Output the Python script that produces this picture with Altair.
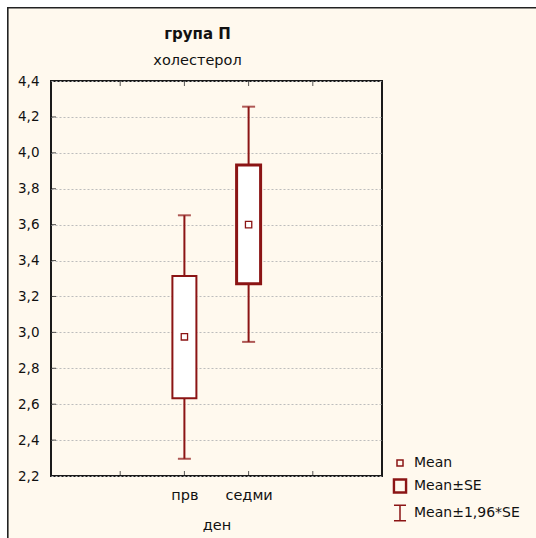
import altair as alt
import pandas as pd

# ---- data ----
categories = ["прв", "седми"]
means = [2.975, 3.600]
se_low = [2.633, 3.271]
se_high = [3.314, 3.932]
ci_low = [2.296, 2.947]
ci_high = [3.652, 4.257]
y_ticks = [2.2, 2.4, 2.6, 2.8, 3.0, 3.2, 3.4, 3.6, 3.8, 4.0, 4.2, 4.4]
x_slots = [1, 2, 3, 4]
legend_labels = ["Mean", "Mean±SE", "Mean±1,96*SE"]
title_text = "група П"
subtitle_text = "холестерол"
x_title = "ден"

MAROON = "#8B1414"
FONT = "DejaVu Sans"
W, H = 331, 395

df = pd.DataFrame({
    "day": categories,
    "pos": [i + 2 for i in range(len(categories))],
    "mean": means,
    "se_lo": se_low,
    "se_hi": se_high,
    "ci_lo": ci_low,
    "ci_hi": ci_high,
})

label_expr = " : ".join(
    [f"datum.value == {i + 2} ? '{c}'" for i, c in enumerate(categories)]
) + " : ''"

x_scale = alt.Scale(domain=[0, 5], nice=False, zero=False)
y_scale = alt.Scale(domain=[2.2, 4.4], nice=False, zero=False)

x_axis = alt.Axis(
    values=x_slots, labelExpr=label_expr, title=x_title, ticks=False, domain=False,
    grid=False, labelFont=FONT, labelFontSize=14.5, labelColor="#111",
    labelPadding=12, titleFont=FONT, titleFontSize=14.5, titleFontWeight="normal",
    titleColor="#111", titlePadding=17, labelOverlap=False,
)
y_axis = alt.Axis(
    values=y_ticks, labelExpr="replace(format(datum.value, '.1f'), '.', ',')",
    title=None, ticks=False, domain=False, grid=True, gridDash=[2, 2],
    gridColor="#bdbdbd", gridWidth=1, labelFont=FONT, labelFontSize=13.5,
    labelColor="#111", labelPadding=12, labelOverlap=False, labelFlush=False,
)


def X(field):
    return alt.X(field, scale=x_scale, axis=x_axis)


def Y(field):
    return alt.Y(field, scale=y_scale, axis=y_axis)


base = alt.Chart(df)

whisker = base.mark_rule(color=MAROON, strokeWidth=2).encode(
    x=X("pos:Q"), y=Y("ci_lo:Q"), y2="ci_hi:Q",
)
cap_lo = base.mark_tick(color=MAROON, orient="horizontal", size=13, thickness=2).encode(
    x=X("pos:Q"), y=Y("ci_lo:Q")
)
cap_hi = base.mark_tick(color=MAROON, orient="horizontal", size=13, thickness=2).encode(
    x=X("pos:Q"), y=Y("ci_hi:Q")
)
box = base.mark_bar(size=24, fill="white", stroke=MAROON).encode(
    x=X("pos:Q"), y=Y("se_lo:Q"), y2="se_hi:Q",
    strokeWidth=alt.StrokeWidth("day:N", scale=alt.Scale(domain=categories, range=[2, 3]), legend=None),
)
mean_pt = base.mark_square(size=40, filled=True, fill="white", stroke=MAROON, strokeWidth=1.3, opacity=1).encode(
    x=X("pos:Q"), y=Y("mean:Q")
)

# inward ticks on the frame
ytick_df = pd.DataFrame({"v": y_ticks[1:-1]})
xtick_df = pd.DataFrame({"p": x_slots})
ytick_marks = alt.Chart(ytick_df).mark_tick(color="#111", orient="horizontal", size=5, thickness=1).encode(
    y=Y("v:Q"), x=alt.value(2.5)
)
xtick_bottom = alt.Chart(xtick_df).mark_tick(color="#111", orient="vertical", size=5, thickness=1).encode(
    x=X("p:Q"), y=alt.value(H - 2.5)
)
xtick_top = alt.Chart(xtick_df).mark_tick(color="#111", orient="vertical", size=5, thickness=1).encode(
    x=X("p:Q"), y=alt.value(2.5)
)

# legend (custom symbols)
leg_df = pd.DataFrame({"item": legend_labels})
paths = [
    "M-0.43,-0.43H0.43V0.43H-0.43Z",
    "M-0.93,-1H0.93V1H-0.93Z M-0.8,-0.87H0.8V0.87H-0.8Z",
    "M-0.86,-1.1H0.86M0,-1.1V1.1M-0.86,1.1H0.86",
]
legend_layer = alt.Chart(leg_df).mark_point(opacity=0).encode(
    shape=alt.Shape(
        "item:N",
        scale=alt.Scale(domain=legend_labels, range=paths),
        legend=alt.Legend(
            title=None, orient="none", legendX=341, legendY=374,
            symbolSize=196, symbolStrokeColor=MAROON, symbolFillColor="transparent",
            symbolStrokeWidth=1.5, symbolOpacity=1, labelFont=FONT, labelFontSize=14,
            labelColor="#111", labelOffset=6, rowPadding=6, padding=0,
        ),
    )
)

# outer panel border (white margin strip + dark line at left/top)
one = alt.Data(values=[{}])
outer_white = alt.Chart(one).mark_rect(fill=None, stroke="white", strokeWidth=15).encode(
    x=alt.value(-51), x2=alt.value(1000), y=alt.value(-81), y2=alt.value(1000)
)
outer_line = alt.Chart(one).mark_rect(fill=None, stroke="#222", strokeWidth=1.6).encode(
    x=alt.value(-43.2), x2=alt.value(1000), y=alt.value(-73.2), y2=alt.value(1000)
)

chart = alt.layer(
    outer_white, outer_line, whisker, cap_lo, cap_hi, box, mean_pt,
    ytick_marks, xtick_bottom, xtick_top, legend_layer,
).properties(
    width=W, height=H,
    autosize=alt.AutoSizeParams(type="none"),
    padding={"left": 51, "top": 81, "right": 154, "bottom": 62},
    background="#FFF9EE",
    title=alt.TitleParams(
        title_text, subtitle=subtitle_text, anchor="middle", frame="group", dx=-19,
        font=FONT, fontSize=15, fontWeight="bold", color="#111",
        subtitleFont=FONT, subtitleFontSize=14.5, subtitleColor="#111",
        subtitlePadding=12, offset=-74.5,
    ),
).configure_view(
    fill="white", stroke="#1a1a1a", strokeWidth=2,
)

chart.save("out.html", embed_options={"renderer": "svg", "actions": False})
